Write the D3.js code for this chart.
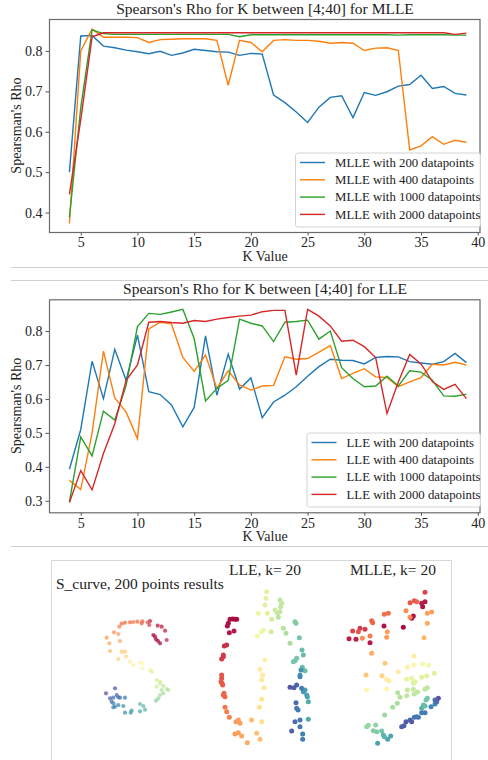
<!DOCTYPE html>
<html lang="en">
<head>
  <meta charset="utf-8">
  <title>Spearson's Rho for K</title>
  <script src="https://d3js.org/d3.v7.js"></script>
  <style>
    body { margin: 0; background: #fff; }
    text { font-family: "Liberation Serif", "DejaVu Serif", serif; fill: #222; }
  </style>
</head>
<body>
  <div id="my_dataviz"></div>

  <script>
    // K values 4..39
    var kValues = d3.range(4, 40);
    var xTicks = [5, 10, 15, 20, 25, 30, 35, 40];

    // MLLE results
    var mlle200 = [0.500, 0.837, 0.838, 0.812, 0.808, 0.802, 0.798, 0.793, 0.799, 0.789, 0.795, 0.804, 0.801, 0.798,
      0.797, 0.789, 0.794, 0.792, 0.691, 0.672, 0.649, 0.623, 0.661, 0.685, 0.689, 0.635, 0.697, 0.690, 0.699, 0.713,
      0.717, 0.740, 0.707, 0.712, 0.695, 0.691];
    var mlle400 = [0.373, 0.800, 0.854, 0.834, 0.834, 0.834, 0.833, 0.821, 0.828, 0.829, 0.830, 0.830, 0.830, 0.826,
      0.715, 0.826, 0.821, 0.798, 0.826, 0.828, 0.826, 0.826, 0.824, 0.819, 0.821, 0.819, 0.801, 0.807, 0.808, 0.801,
      0.555, 0.565, 0.588, 0.569, 0.579, 0.574];
    var mlle1000 = [0.388, 0.660, 0.852, 0.843, 0.841, 0.841, 0.841, 0.841, 0.841, 0.841, 0.841, 0.841, 0.841, 0.841,
      0.841, 0.835, 0.840, 0.840, 0.840, 0.840, 0.840, 0.840, 0.840, 0.840, 0.840, 0.840, 0.840, 0.840, 0.840, 0.839,
      0.840, 0.840, 0.840, 0.840, 0.839, 0.839];
    var mlle2000 = [0.445, 0.630, 0.835, 0.845, 0.845, 0.845, 0.845, 0.845, 0.845, 0.845, 0.845, 0.845, 0.845, 0.845,
      0.845, 0.845, 0.845, 0.845, 0.845, 0.845, 0.845, 0.845, 0.845, 0.845, 0.845, 0.845, 0.845, 0.845, 0.845, 0.845,
      0.845, 0.845, 0.845, 0.845, 0.841, 0.844];

    // LLE results
    var lle200 = [0.393, 0.510, 0.711, 0.601, 0.746, 0.655, 0.788, 0.621, 0.613, 0.582, 0.518, 0.575, 0.786, 0.611,
      0.732, 0.629, 0.662, 0.545, 0.591, 0.611, 0.636, 0.667, 0.695, 0.717, 0.714, 0.713, 0.703, 0.722, 0.725, 0.724,
      0.710, 0.706, 0.702, 0.710, 0.734, 0.707];
    var lle400 = [0.360, 0.333, 0.500, 0.741, 0.603, 0.561, 0.483, 0.806, 0.826, 0.821, 0.722, 0.681, 0.729, 0.631,
      0.683, 0.641, 0.626, 0.638, 0.640, 0.724, 0.717, 0.719, 0.738, 0.757, 0.660, 0.675, 0.689, 0.665, 0.663, 0.636,
      0.650, 0.663, 0.702, 0.700, 0.708, 0.700];
    var lle1000 = [0.297, 0.488, 0.432, 0.564, 0.538, 0.640, 0.813, 0.852, 0.849, 0.856, 0.864, 0.778, 0.594, 0.631,
      0.655, 0.835, 0.823, 0.815, 0.769, 0.826, 0.828, 0.832, 0.776, 0.800, 0.692, 0.660, 0.636, 0.638, 0.667, 0.638,
      0.683, 0.679, 0.655, 0.609, 0.608, 0.614];
    var lle2000 = [0.295, 0.389, 0.332, 0.439, 0.527, 0.655, 0.700, 0.826, 0.828, 0.825, 0.823, 0.831, 0.828, 0.835,
      0.840, 0.844, 0.847, 0.857, 0.861, 0.861, 0.670, 0.864, 0.844, 0.815, 0.770, 0.773, 0.754, 0.722, 0.557, 0.650,
      0.731, 0.703, 0.651, 0.628, 0.643, 0.601];

    var pointCounts = [200, 400, 1000, 2000];
    var colors = ["#1f77b4", "#ff7f0e", "#2ca02c", "#d62728"];

    // scatter embeddings, [x, y, colour position]
    var sCurve = [
      [270,123,0.06],[293,137,0.05],[305,140,0.05],[315,152,0.06],[320,180,0.07],
      [280,165,0.02],[288,178,0.02],[294,183,0.02],[300,190,0.02],[285,170,0.03],
      [185,131,0.2],[195,128,0.2],[210,127,0.2],[220,126,0.22],[232,125,0.2],[247,124,0.18],[245,130,0.18],
      [263,127,0.15],[268,135,0.12],[178,140,0.24],[162,157,0.26],[175,162,0.28],[140,173,0.28],[180,183,0.3],
      [148,190,0.3],[150,213,0.33],[185,215,0.36],[195,215,0.36],[175,237,0.38],[198,230,0.4],
      [210,245,0.44],[220,255,0.46],[240,248,0.48],[247,265,0.5],[270,270,0.56],[248,250,0.5],
      [275,275,0.6],[290,300,0.62],[300,310,0.64],[290,320,0.64],[310,318,0.66],[320,327,0.66],[305,330,0.68],
      [300,345,0.7],[295,355,0.72],[288,362,0.74],[310,340,0.7],[325,330,0.68],[300,305,0.63],
      [240,372,0.8],[250,378,0.8],[255,389,0.82],[240,394,0.84],[215,392,0.86],[212,398,0.86],
      [160,370,0.9],[165,380,0.9],[190,378,0.88],[195,398,0.88],[160,353,0.94],[175,352,0.95],[195,353,0.92],
      [180,353,0.94],[170,345,0.96],[150,355,0.97],[138,340,0.98],[165,325,0.97],[155,365,0.93],[160,382,0.9],
      [175,375,0.9]
    ];
    var lleEmb = [
      [120,118,0.02],[128,117,0.02],[135,118,0.02],[140,118,0.02],[115,130,0.03],[112,138,0.03],[118,158,0.04],
      [132,153,0.04],[110,195,0.08],[103,198,0.08],[100,230,0.1],[95,237,0.1],[100,225,0.1],
      [95,285,0.15],[95,295,0.15],[93,305,0.16],[98,315,0.16],[96,310,0.16],[102,340,0.18],[105,350,0.19],
      [100,345,0.18],[105,382,0.21],[110,395,0.22],[118,412,0.23],
      [138,425,0.27],[145,420,0.28],[150,430,0.28],[135,462,0.27],[145,458,0.28],[155,468,0.29],[172,488,0.3],
      [185,420,0.33],[200,460,0.34],[210,478,0.34],
      [215,425,0.4],[208,382,0.41],[215,358,0.42],[222,323,0.43],[215,300,0.43],[210,268,0.44],[218,285,0.44],
      [225,240,0.46],[202,168,0.55],[215,155,0.56],[220,150,0.56],[205,100,0.57],[232,100,0.6],[225,75,0.6],
      [228,55,0.6],[230,35,0.6],
      [245,118,0.63],[243,155,0.63],[255,90,0.64],[262,100,0.65],[270,95,0.66],[270,60,0.66],[275,70,0.66],
      [272,80,0.66],[265,112,0.67],[280,145,0.68],[288,160,0.69],[300,190,0.7],
      [315,125,0.76],[318,130,0.76],[328,173,0.78],[336,210,0.8],[340,225,0.8],[320,235,0.78],[315,242,0.78],
      [310,245,0.78],[345,272,0.8],[337,262,0.8],
      [330,285,0.88],[333,270,0.88],[345,330,0.86],[350,345,0.85],[355,365,0.84],[355,418,0.84],[340,335,0.87],
      [352,350,0.86],
      [330,290,0.9],[320,315,0.97],[300,322,0.99],[312,323,0.97],[335,325,0.92],[318,368,0.95],[320,385,0.93],
      [324,390,0.92],[315,425,0.95],[330,420,0.93],[330,440,0.93],[305,453,0.97],[338,462,0.92],[338,478,0.92]
    ];
    var mlleEmb = [
      [315,37,0.12],[270,68,0.15],[283,62,0.15],[290,65,0.18],[305,70,0.05],[315,65,0.04],[308,80,0.03],
      [275,115,0.03],[280,108,0.03],[270,112,0.25],[250,142,0.02],[258,92,0.25],[322,100,0.28],[335,96,0.28],
      [322,130,0.3],[312,173,0.32],[193,103,0.2],[205,100,0.2],[155,122,0.18],[158,128,0.18],[192,138,0.03],
      [202,155,0.28],[200,172,0.28],[120,145,0.1],[135,148,0.1],[98,153,0.12],[115,155,0.15],[87,176,0.05],
      [108,178,0.05],[127,175,0.25],[150,168,0.22],[150,188,0.04],[155,220,0.3],
      [195,250,0.36],[138,285,0.35],[186,287,0.38],[200,298,0.45],[207,302,0.45],[140,330,0.48],[200,327,0.48],
      [235,275,0.45],[262,262,0.46],[282,255,0.48],[282,228,0.45],[308,252,0.55],[326,256,0.55],
      [260,298,0.58],[275,295,0.58],[285,305,0.6],[280,310,0.6],[305,292,0.6],[320,288,0.6],[343,280,0.6],
      [262,330,0.65],[280,328,0.65],[293,336,0.66],[315,328,0.66],[322,323,0.66],[233,338,0.68],[240,352,0.68],
      [260,347,0.66],[283,342,0.66],[232,370,0.7],[218,382,0.7],[194,405,0.72],
      [318,360,0.78],[322,355,0.78],[310,375,0.8],[305,385,0.82],[315,378,0.8],[140,440,0.72],[145,436,0.72],
      [167,435,0.74],[160,452,0.76],[170,455,0.76],[185,453,0.78],[193,470,0.82],[190,465,0.82],[203,478,0.85],
      [212,468,0.85],[173,490,0.85],
      [245,440,0.97],[252,437,0.97],[258,425,0.98],[270,420,0.95],[275,425,0.98],[283,412,0.93],[290,410,0.93],
      [295,412,0.93],[305,398,0.92],[315,398,0.92],[333,380,0.9],[345,372,0.9],[350,365,0.95],[355,355,1.0],
      [345,360,0.95]
    ];

    var svg = d3.select("#my_dataviz")
      .append("svg")
      .attr("width", 488)
      .attr("height", 760);

    // separator lines between notebook outputs
    [267.5, 280.5, 546.5].forEach(function(y) {
      svg.append("line").attr("x1", 11).attr("x2", 488).attr("y1", y).attr("y2", y)
        .attr("stroke", "#cfcfcf").attr("stroke-width", 1);
    });

    var serif = "'Liberation Serif', 'DejaVu Serif', serif";

    function lineChart(opt) {
      var x = d3.scaleLinear().domain([2.2, 40.2]).range([49, 480]);
      var y = d3.scaleLinear().domain(opt.yDomain).range([opt.bottom, opt.top]);

      var g = svg.append("g");

      g.append("g")
        .attr("transform", "translate(0," + opt.bottom + ")")
        .call(d3.axisBottom(x).tickValues(xTicks).tickSize(3.5).tickPadding(2).tickFormat(d3.format("d")))
        .attr("font-family", serif)
        .attr("font-size", 14)
        .call(function(a) {
          a.select(".domain").remove();
          a.selectAll("line").attr("stroke", "#555");
          a.selectAll("text").attr("fill", "#222");
        });

      g.append("g")
        .attr("transform", "translate(49,0)")
        .call(d3.axisLeft(y).tickValues(opt.yTicks).tickSize(3.5).tickPadding(3).tickFormat(d3.format(".1f")))
        .attr("font-family", serif)
        .attr("font-size", 14)
        .call(function(a) {
          a.select(".domain").remove();
          a.selectAll("line").attr("stroke", "#555");
          a.selectAll("text").attr("fill", "#222");
        });

      // lines
      var line = d3.line().x(function(d) { return x(d[0]); }).y(function(d) { return y(d[1]); });
      opt.series.forEach(function(s, i) {
        g.append("path")
          .datum(kValues.map(function(k, j) { return [k, s[j]]; }))
          .attr("fill", "none")
          .attr("stroke", colors[i])
          .attr("stroke-width", 1.4)
          .attr("d", line);
      });

      // frame
      g.append("rect")
        .attr("x", 49.5).attr("y", opt.top + 0.5)
        .attr("width", 430.5).attr("height", opt.bottom - opt.top)
        .attr("fill", "none").attr("stroke", "#6b6b6b").attr("stroke-width", 1.2);

      // title + axis labels
      g.append("text").attr("x", 265).attr("y", opt.top - 5).attr("text-anchor", "middle")
        .style("font-size", "15.5px").text(opt.title);
      g.append("text").attr("x", 265).attr("y", opt.bottom + 29).attr("text-anchor", "middle")
        .style("font-size", "14px").text("K Value");
      g.append("text")
        .attr("transform", "translate(21," + ((opt.top + opt.bottom) / 2) + ") rotate(-90)")
        .attr("text-anchor", "middle")
        .style("font-size", "14px").text("Spearsman's Rho");

      // legend
      var lg = g.append("g").attr("transform", "translate(" + opt.legend[0] + "," + opt.legend[1] + ")");
      lg.append("rect").attr("x", 0.5).attr("y", 0.5).attr("rx", 2.5)
        .attr("width", 480 - opt.legend[0]).attr("height", 74)
        .attr("fill", "#fff").attr("fill-opacity", 0.85).attr("stroke", "#d4d4d4");
      pointCounts.forEach(function(n, i) {
        var cy = 10 + i * 17.3;
        lg.append("line").attr("x1", 5).attr("x2", 30).attr("y1", cy).attr("y2", cy)
          .attr("stroke", colors[i]).attr("stroke-width", 1.4);
        lg.append("text").attr("x", 40).attr("y", cy + 4.3)
          .style("font-size", "12.8px").text(opt.method + " with " + n + " datapoints");
      });
    }

    lineChart({
      title: "Spearson's Rho for K between [4;40] for MLLE",
      method: "MLLE",
      top: 19, bottom: 232,
      yDomain: [0.352, 0.879],
      yTicks: [0.4, 0.5, 0.6, 0.7, 0.8],
      series: [mlle200, mlle400, mlle1000, mlle2000],
      legend: [295, 152.5]
    });

    lineChart({
      title: "Spearson's Rho for K between [4;40] for LLE",
      method: "LLE",
      top: 299.3, bottom: 512.3,
      yDomain: [0.266, 0.8935],
      yTicks: [0.3, 0.4, 0.5, 0.6, 0.7, 0.8],
      series: [lle200, lle400, lle1000, lle2000],
      legend: [306.5, 432.5]
    });

    // scatter panel
    var panel = svg.append("g");
    panel.append("rect").attr("x", 51.5).attr("y", 560.5).attr("width", 400).attr("height", 210)
      .attr("fill", "#fff").attr("stroke", "#d8d8d8");

    panel.append("text").attr("x", 56).attr("y", 589).style("font-size", "15.5px").text("S_curve, 200 points results");
    panel.append("text").attr("x", 265).attr("y", 575).attr("text-anchor", "middle").style("font-size", "15.5px").text("LLE, k= 20");
    panel.append("text").attr("x", 393).attr("y", 575).attr("text-anchor", "middle").style("font-size", "15.5px").text("MLLE, k= 20");

    function scatter(data, left, r, opacity) {
      var sx = d3.scaleLinear().domain([0, 420]).range([left, left + 140]);
      var sy = d3.scaleLinear().domain([0, 510]).range([580, 750]);
      panel.append("g").selectAll("circle")
        .data(data)
        .enter()
        .append("circle")
        .attr("cx", function(d) { return sx(d[0]); })
        .attr("cy", function(d) { return sy(d[1]); })
        .attr("r", r)
        .attr("fill", function(d) { return d3.interpolateSpectral(d[2]); })
        .attr("fill-opacity", opacity);
    }

    scatter(sCurve, 60, 2.1, 0.75);
    scatter(lleEmb, 190, 2.5, 1);
    scatter(mlleEmb, 320, 2.5, 1);
  </script>
</body>
</html>
